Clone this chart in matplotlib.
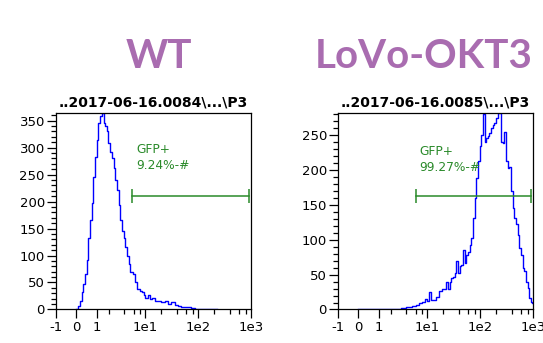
import matplotlib
matplotlib.use('Agg')
import matplotlib.pyplot as plt
from matplotlib.ticker import MultipleLocator

# histogram data (FL value, event count)
wt_fl = [0, 0.131, 0.207, 0.279, 0.357, 0.437, 0.514, 0.599,
         0.687, 0.774, 0.870, 0.971, 1.07, 1.18, 1.30, 1.42,
         1.55, 1.69, 1.83, 1.99, 2.17, 2.34, 2.54, 2.75,
         2.96, 3.20, 3.45, 3.71, 4.01, 4.33, 4.65, 5.02,
         5.41, 6.26, 6.75, 7.25, 8.42, 9.03, 9.73, 10.5,
         12.1, 13.1, 14.0, 16.2, 18.8, 21.7, 25.2, 29.1,
         33.6, 39.0, 45.0, 52.0, 60.3, 69.6, 80.5, 93.4,
         108, 144, 167, 224]
wt_count = [0, 7, 16, 32, 48, 66, 91, 132,
            165, 197, 246, 283, 314, 346, 358, 364,
            346, 339, 330, 308, 292, 280, 262, 240,
            221, 193, 165, 146, 132, 115, 100, 85,
            69, 66, 50, 38, 35, 32, 26, 22,
            26, 19, 22, 16, 16, 13, 15, 11,
            13, 9, 7, 5, 5, 4, 3, 1,
            1, 1, 0, 1]

okt_fl = [0, 0.205, 0.480, 0.843, 1.29, 1.94, 2.83, 3.55,
          4.19, 4.84, 5.60, 6.50, 7.51, 8.68, 9.34, 10.1,
          11.6, 12.5, 14.4, 15.5, 17.9, 20.7, 24.0, 25.7,
          27.7, 29.8, 31.9, 34.3, 37.0, 39.6, 42.6, 45.9,
          49.2, 53.0, 57.0, 61.1, 65.7, 70.8, 75.8, 81.6,
          87.9, 94.2, 101, 109, 117, 126, 135, 145,
          156, 168, 180, 194, 209, 224, 241, 259,
          278, 299, 322, 345, 372, 400, 429, 461,
          497, 532, 573, 617, 661, 711, 766, 821,
          883, 951, 1000]
okt_count = [0, 1, 1, 1, 1, 1, 1, 2,
             3, 3, 5, 6, 9, 11, 15, 12,
             25, 13, 13, 18, 26, 29, 40, 30,
             40, 45, 47, 52, 69, 52, 62, 64,
             85, 66, 78, 83, 93, 102, 131, 160,
             189, 213, 234, 251, 280, 241, 246, 249,
             253, 260, 265, 268, 275, 282, 282, 241,
             239, 255, 213, 203, 205, 170, 146, 131,
             122, 107, 88, 78, 59, 55, 40, 31,
             16, 11, 9]

group_names = ['WT', 'LoVo-OKT3']
file_titles = ['..2017-06-16.0084\\...\\P3', '..2017-06-16.0085\\...\\P3']
gate_labels = ['GFP+\n9.24%-#', 'GFP+\n99.27%-#']
gate_ranges = [(5.7, 917), (6.0, 910)]
gate_levels = [211, 163]
gate_text_pos = [(6.8, 308), (7.2, 236)]
y_max = [364, 282]
y_major = [range(0, 351, 50), range(0, 251, 50)]

x_ticks = [-1, 0, 1, 10, 100, 1000]
x_ticklabels = ['-1', '0', '1', '1e1', '1e2', '1e3']
x_minor = [2, 4, 6, 8, 20, 40, 60, 80, 200, 400, 600, 800]

purple = '#A96CB0'
green = '#2A8A2A'

fig = plt.figure(figsize=(5.43, 3.43), dpi=100)
axes = [fig.add_axes([0.1031, 0.0977, 0.3591, 0.5729]),
        fig.add_axes([0.6225, 0.0977, 0.3591, 0.5729])]
title_x = [158.9 / 543, 423.3 / 543]

data = [(wt_fl, wt_count), (okt_fl, okt_count)]
for i, ax in enumerate(axes):
    fl, cnt = data[i]
    ax.set_xscale('asinh', linear_width=1)
    ax.step(fl, cnt, where='mid', color='#0000FF', lw=1.0)

    # gate bar
    g0, g1 = gate_ranges[i]
    ax.plot([g0, g1], [gate_levels[i]] * 2, color=green, lw=1.1,
            marker='|', markersize=10, markeredgewidth=1.1)
    tx, ty = gate_text_pos[i]
    ax.text(tx, ty, gate_labels[i], color=green, fontsize=8.8,
            va='top', ha='left', linespacing=1.25)

    ax.set_xlim(-1, 1000)
    ax.set_ylim(0, y_max[i])
    ax.set_xticks(x_ticks)
    ax.set_xticklabels(x_ticklabels)
    ax.set_xticks(x_minor, minor=True)
    ax.set_yticks(list(y_major[i]))
    ax.yaxis.set_minor_locator(MultipleLocator(10))
    ax.tick_params(which='major', length=6.5, width=0.9, labelsize=9.5, pad=1.5)
    ax.tick_params(which='minor', length=3.3, width=0.9)
    for s in ax.spines.values():
        s.set_linewidth(0.9)
    ax.set_title(file_titles[i], fontsize=10, fontweight='bold', pad=5)

    fig.text(title_x[i], 1 - 68.4 / 343, group_names[i], color=purple,
             fontsize=29, fontweight='bold', family='Lato',
             ha='center', va='baseline')

fig.savefig('out.png', dpi=100)
